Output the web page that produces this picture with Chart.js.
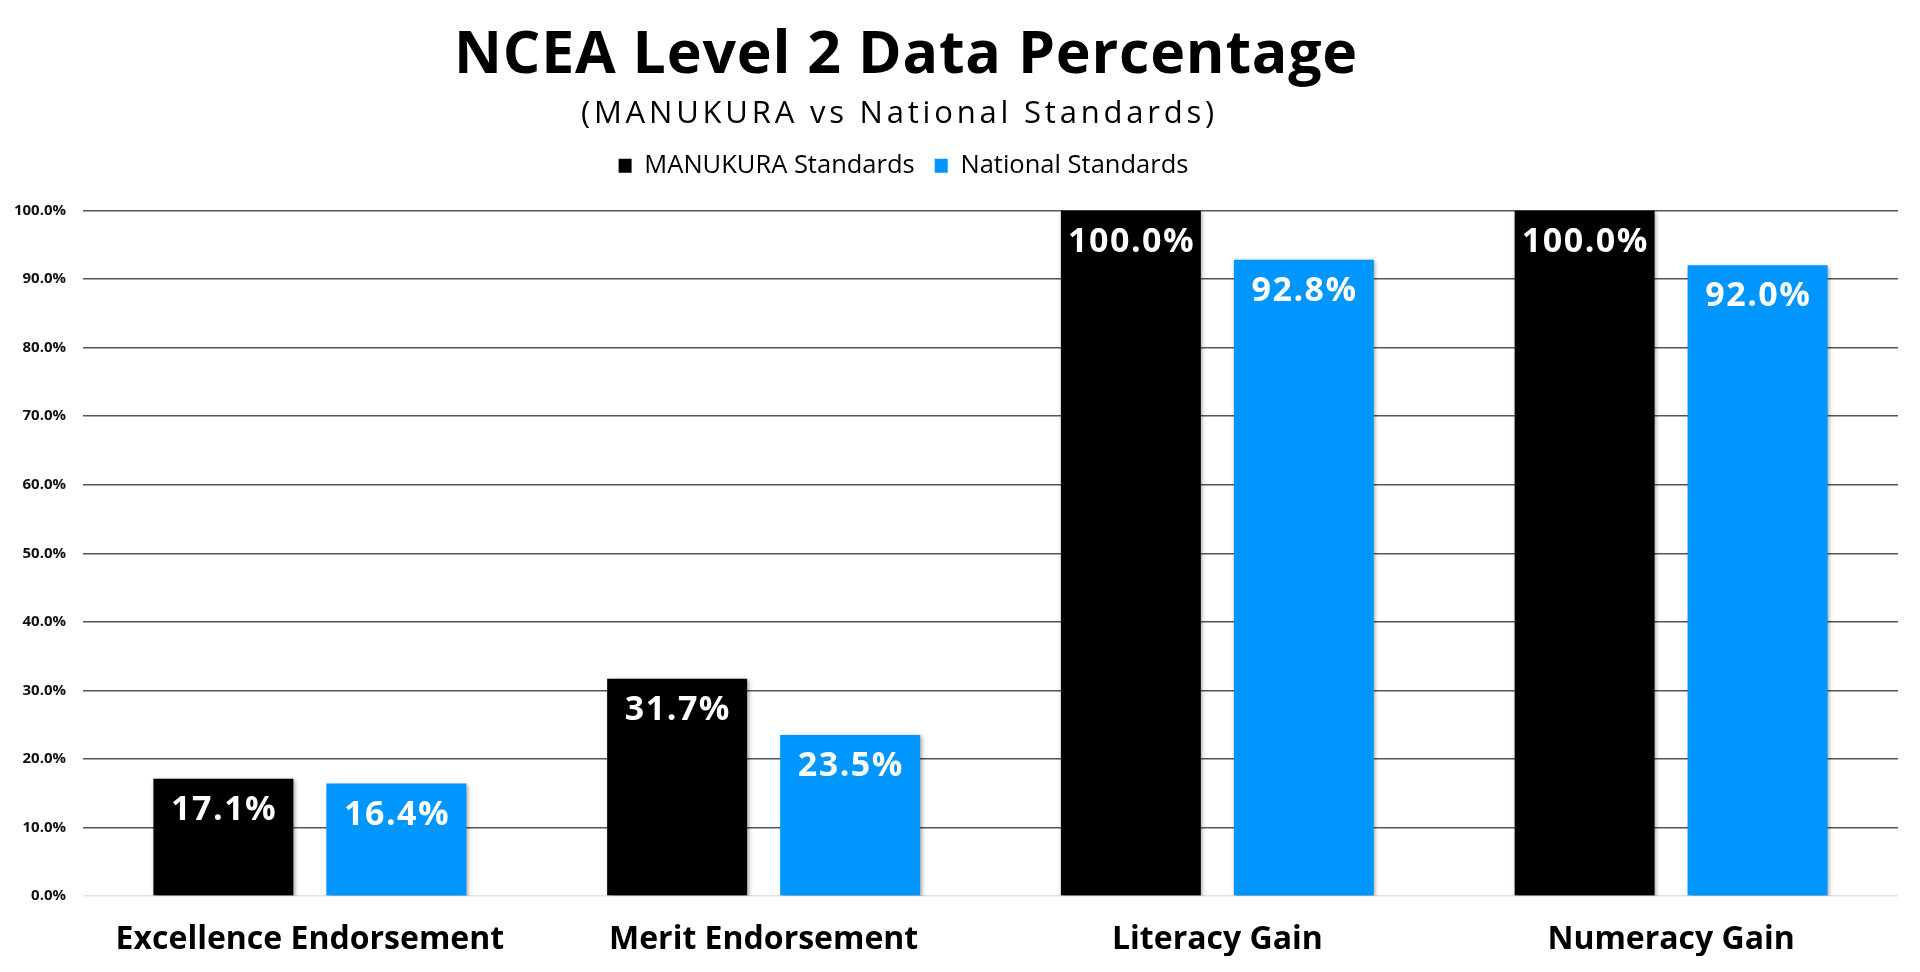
<!DOCTYPE html>
<html>
<head>
<meta charset="utf-8">
<script src="https://cdn.jsdelivr.net/npm/chart.js@4.4.1/dist/chart.umd.min.js"></script>
<style>
html,body{margin:0;padding:0;background:#fff;}
#wrap{width:1920px;height:972px;position:relative;}
</style>
</head>
<body>
<div id="wrap"><canvas id="c"></canvas></div>
<script>
const TITLE = 'NCEA Level 2 Data Percentage';
const SUBTITLE = '(MANUKURA vs National Standards)';
const categories = ['Excellence Endorsement', 'Merit Endorsement', 'Literacy Gain', 'Numeracy Gain'];
const seriesNames = ['MANUKURA Standards', 'National Standards'];
const manukuraValues = [17.1, 31.7, 100.0, 100.0];
const nationalValues = [16.4, 23.5, 92.8, 92.0];
const yMin = 0, yMax = 100, yStep = 10;

const FONT = '"Open Sans", "DejaVu Sans", sans-serif';
const BLACK = '#000000';
const BLUE = '#0096FF';

// Letter spacing + horizontal offset for title/subtitle boxes
const titleStylePlugin = {
  id: 'titleStyle',
  afterLayout(chart) {
    chart.boxes.forEach(b => {
      if (b._lsWrapped || !b.options) return;
      let sp = null, dx = 0;
      if (b.options.text === TITLE) { sp = '0.8px'; dx = -49.5; }
      else if (b.options.text === SUBTITLE) { sp = '3.8px'; dx = -56; }
      if (sp === null) return;
      const orig = b.draw;
      b.draw = function (...args) {
        const ctx = this.ctx;
        ctx.save();
        ctx.translate(dx, 0);
        ctx.letterSpacing = sp;
        orig.apply(this, args);
        ctx.restore();
      };
      b._lsWrapped = true;
    });
  }
};

// Extra gap under the legend and horizontal offset
const legendGapPlugin = {
  id: 'legendGap',
  afterInit(chart) {
    const lg = chart.legend;
    if (!lg || lg._gapPatched) return;
    const f = lg.fit;
    lg.fit = function () { f.apply(this, arguments); this.height += 22; };
    const d = lg.draw;
    lg.draw = function () {
      const ctx = this.ctx;
      ctx.save();
      ctx.translate(-52, 0);
      d.apply(this, arguments);
      ctx.restore();
    };
    lg._gapPatched = true;
  }
};

// Soft shadow behind bars
const barShadowPlugin = {
  id: 'barShadow',
  beforeDatasetsDraw(chart) {
    const ctx = chart.ctx;
    ctx.save();
    ctx.shadowColor = 'rgba(0,0,0,0.35)';
    ctx.shadowBlur = 4;
    ctx.shadowOffsetX = 1.5;
    ctx.shadowOffsetY = 1.5;
  },
  afterDatasetsDraw(chart) {
    chart.ctx.restore();
  }
};

// Value labels inside bar tops
const valueLabelPlugin = {
  id: 'valueLabels',
  afterDatasetsDraw(chart) {
    const ctx = chart.ctx;
    ctx.save();
    ctx.font = 'bold 34px ' + FONT;
    ctx.fillStyle = '#ffffff';
    ctx.textAlign = 'center';
    ctx.textBaseline = 'alphabetic';
    ctx.letterSpacing = '1.5px';
    chart.data.datasets.forEach((ds, di) => {
      const meta = chart.getDatasetMeta(di);
      meta.data.forEach((bar, i) => {
        ctx.fillText(ds.data[i].toFixed(1) + '%', bar.x + 0.75, bar.y + 41);
      });
    });
    ctx.restore();
  }
};

function build() {
  new Chart(document.getElementById('c'), {
    type: 'bar',
    data: {
      labels: categories,
      datasets: [
        { label: seriesNames[0], data: manukuraValues, backgroundColor: BLACK, borderWidth: 0,
          categoryPercentage: 0.7625, barPercentage: 0.809 },
        { label: seriesNames[1], data: nationalValues, backgroundColor: BLUE, borderWidth: 0,
          categoryPercentage: 0.7625, barPercentage: 0.809 }
      ]
    },
    options: {
      responsive: true,
      maintainAspectRatio: false,
      animation: false,
      layout: { padding: { left: 13, right: 22, bottom: 16, top: 0 } },
      plugins: {
        title: {
          display: true, text: TITLE, color: '#000',
          font: { family: FONT, size: 59, weight: 'bold', lineHeight: 1.2 },
          padding: { top: 21, bottom: 0 }
        },
        subtitle: {
          display: true, text: SUBTITLE, color: '#000',
          font: { family: FONT, size: 31, weight: 'normal', lineHeight: 1.2 },
          padding: { top: 4, bottom: 0 }
        },
        legend: {
          display: true, position: 'top', align: 'center',
          labels: {
            color: '#000', boxWidth: 13, boxHeight: 14, padding: 20,
            font: { family: FONT, size: 25.5 }
          }
        },
        tooltip: { enabled: false }
      },
      scales: {
        x: {
          grid: { display: false },
          border: { display: false },
          ticks: { color: '#000', padding: 17, font: { family: FONT, size: 32, weight: 'bold' } },
          afterFit: s => { s.height = 60; }
        },
        y: {
          min: yMin, max: yMax,
          grid: {
            drawTicks: false,
            color: c => (c.tick && c.tick.value === 0) ? '#e2e2e2' : '#555555',
            lineWidth: 1.5
          },
          border: { display: false },
          ticks: {
            stepSize: yStep, color: '#111', padding: 17,
            font: { family: FONT, size: 15, weight: 'bold' },
            callback: v => Number(v).toFixed(1) + '%'
          },
          afterFit: s => { s.width = 70; }
        }
      }
    },
    plugins: [titleStylePlugin, legendGapPlugin, barShadowPlugin, valueLabelPlugin]
  });
}

if (document.fonts && document.fonts.load) {
  Promise.all([
    document.fonts.load('bold 59px "Open Sans"'),
    document.fonts.load('31px "Open Sans"')
  ]).then(build, build);
} else build();
</script>
</body>
</html>
